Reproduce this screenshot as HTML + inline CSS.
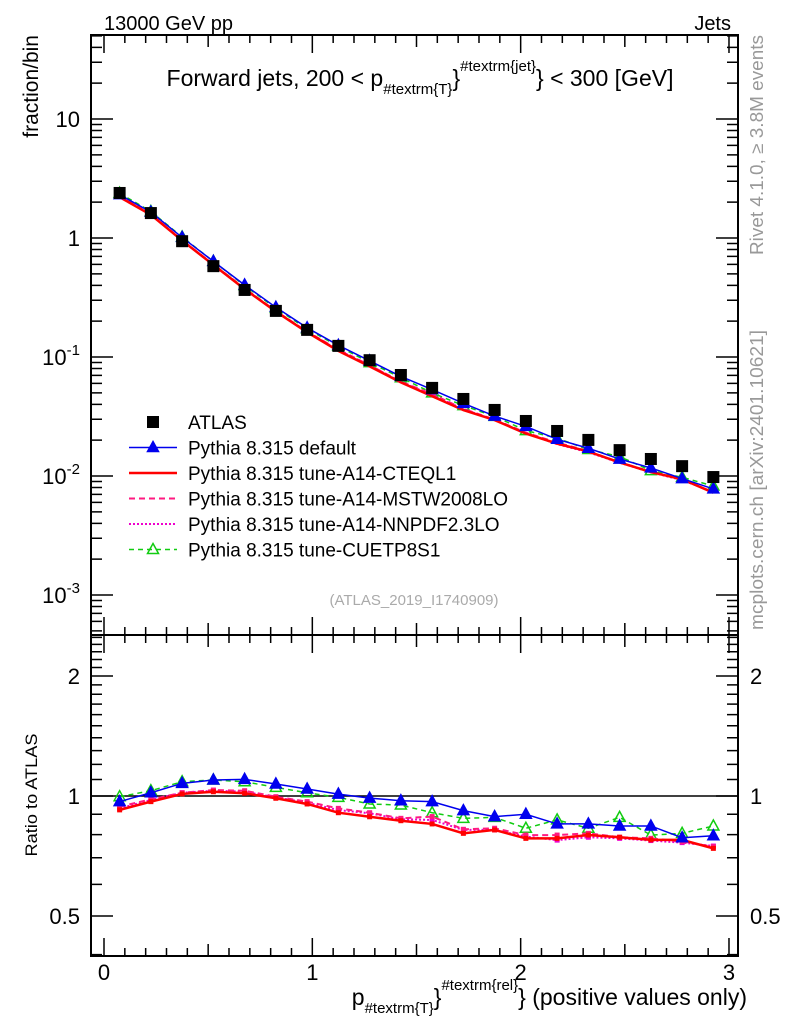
<!DOCTYPE html>
<html><head><meta charset="utf-8"><style>
body{margin:0;background:#fff;}
svg text{font-family:"Liberation Sans",sans-serif;}
</style></head><body>
<svg id="c" width="786" height="1024" viewBox="0 0 786 1024" xmlns="http://www.w3.org/2000/svg">
<text x="104" y="30" font-size="20">13000 GeV pp</text>
<text x="731" y="30" font-size="20" text-anchor="end">Jets</text>
<text x="420" y="86" font-size="23" text-anchor="middle">Forward jets, 200 &lt; p<tspan font-size="15" dy="8">#textrm{T}</tspan><tspan dy="-8">}</tspan><tspan font-size="15" dy="-15">#textrm{jet}</tspan><tspan dy="15">} &lt; 300 [GeV]</tspan></text>
<text transform="translate(38,35) rotate(-90)" font-size="21" text-anchor="end">fraction/bin</text>
<text transform="translate(37,795) rotate(-90)" font-size="17" text-anchor="middle" textLength="123" lengthAdjust="spacingAndGlyphs">Ratio to ATLAS</text>
<text x="747" y="1005" font-size="23" text-anchor="end">p<tspan font-size="15" dy="8">#textrm{T}</tspan><tspan dy="-8">}</tspan><tspan font-size="15" dy="-15">#textrm{rel}</tspan><tspan dy="15">} (positive values only)</tspan></text>
<text transform="translate(763,35) rotate(-90)" font-size="18" fill="#999" text-anchor="end" textLength="220" lengthAdjust="spacingAndGlyphs">Rivet 4.1.0, ≥ 3.8M events</text>
<text transform="translate(763,630) rotate(-90)" font-size="18" fill="#999" textLength="300" lengthAdjust="spacingAndGlyphs">mcplots.cern.ch [arXiv:2401.10621]</text>
<text x="414" y="605" font-size="15" fill="#aaa" text-anchor="middle">(ATLAS_2019_I1740909)</text>
<g id="g"></g>
</svg>
<script>
const xCenters=[0.075,0.225,0.375,0.525,0.675,0.825,0.975,1.125,1.275,1.425,1.575,1.725,1.875,2.025,2.175,2.325,2.475,2.625,2.775,2.925];
const atlas=[2.39,1.62,0.94,0.58,0.366,0.244,0.169,0.124,0.094,0.0706,0.055,0.0444,0.0359,0.029,0.0239,0.0201,0.0165,0.0139,0.0121,0.0098];
const rDefault=[0.968,1.019,1.076,1.097,1.101,1.072,1.041,1.011,0.988,0.973,0.968,0.919,0.888,0.900,0.851,0.851,0.841,0.841,0.786,0.795];
const rCteq=[0.923,0.968,1.012,1.025,1.016,0.987,0.955,0.908,0.887,0.867,0.851,0.806,0.822,0.783,0.783,0.798,0.788,0.776,0.776,0.739];
const rMstw=[0.940,0.981,1.019,1.035,1.031,0.996,0.968,0.931,0.908,0.879,0.888,0.825,0.830,0.798,0.798,0.806,0.788,0.783,0.768,0.746];
const rNnpdf=[0.931,0.977,1.019,1.031,1.025,0.992,0.962,0.922,0.905,0.874,0.871,0.822,0.822,0.791,0.775,0.788,0.783,0.773,0.764,0.749];
const rCuetp=[0.996,1.031,1.086,1.097,1.086,1.051,1.019,0.992,0.955,0.949,0.908,0.879,0.884,0.830,0.871,0.830,0.884,0.798,0.806,0.841];
const xTickLabels=["0","1","2","3"];
const yMainLabels=[[10,"10"],[1,"1"],[0.1,"10^-1"],[0.01,"10^-2"],[0.001,"10^-3"]];
const ratioLabels=[[2,"2"],[1,"1"],[0.5,"0.5"]];

const NS="http://www.w3.org/2000/svg";
const G=document.getElementById('g');
const L=91,R=738,T=35,MID=635,B=956;
const X=v=>104+v*208.33;
const Y=v=>238-119*Math.log10(v);
const YR=v=>796-120*Math.log2(v);
function mk(tag,at,parent){const e=document.createElementNS(NS,tag);for(const k in at)e.setAttribute(k,at[k]);(parent||G).appendChild(e);return e;}

let f1=mk('rect',{x:L,y:T,width:R-L,height:MID-T,fill:'none',stroke:'#000','stroke-width':2});


let f2=mk('rect',{x:L,y:MID,width:R-L,height:B-MID,fill:'none',stroke:'#000','stroke-width':2});



let tk='';
for(let i=0;i<=30;i++){const v=i/10,x=X(v);if(x>R)break;const len=i%10==0?18:(i%5==0?12:8);
 for(const [y0,d] of [[MID,-1],[T,1],[B,-1],[MID,1]]) tk+=`M${x},${y0}v${d*len}`;}
for(let e=-4;e<=1;e++)for(let m=1;m<=9;m++){const v=m*Math.pow(10,e);const y=Y(v);if(y<T||y>MID)continue;const len=m==1?22:11;tk+=`M${L},${y}h${len}M${R},${y}h${-len}`;}
for(const v of [0.4,0.5,0.6,0.7,0.8,0.9,1,1.1,1.2,1.3,1.4,1.5,1.6,1.7,1.8,1.9,2,2.1,2.2,2.3,2.4,2.5]){const y=YR(v);if(y<MID||y>B)continue;const len=(v==0.5||v==1||v==2)?22:11;tk+=`M${L},${y}h${len}M${R},${y}h${-len}`;}
let tp=mk('path',{d:tk,stroke:'#000','stroke-width':1.5,fill:'none'});



xTickLabels.forEach((s,i)=>{let t=mk('text',{x:X(i),y:980,'font-size':22,'text-anchor':'middle'});t.textContent=s;

});
yMainLabels.forEach(([v,s])=>{let t=mk('text',{x:80,y:Y(v)+8,'font-size':22,'text-anchor':'end'});
 const p=s.split('^');t.textContent=p[0];if(p[1]){const ts=mk('tspan',{'font-size':15,dy:-10},t);ts.textContent=p[1];}

});
ratioLabels.forEach(([v,s])=>{for(const [x,a] of [[80,'end'],[750,'start']]){let t=mk('text',{x:x,y:YR(v)+8,'font-size':22,'text-anchor':a});t.textContent=s;

}});
let one=mk('line',{x1:L,x2:R,y1:YR(1),y2:YR(1),stroke:'#000','stroke-width':1.5});



const series=[
 {n:'default',r:rDefault,c:'#0000ee',w:1.5,dash:'',m:'tri'},
 {n:'cteql1',r:rCteq,c:'#ff0000',w:2.5,dash:'',m:'none'},
 {n:'mstw2008lo',r:rMstw,c:'#ff1a80',w:2,dash:'6,4',m:'none'},
 {n:'nnpdf23lo',r:rNnpdf,c:'#ee00cc',w:2,dash:'2,2',m:'none'},
 {n:'cuetp8s1',r:rCuetp,c:'#11cc11',w:1.5,dash:'5,4',m:'otri'}];
function tri(x,y,c,open,g){return mk('path',{d:`M${x},${y-6}L${x+5.5},${y+4}L${x-5.5},${y+4}Z`,fill:open?'none':c,stroke:c,'stroke-width':1.5},g);}
series.slice().reverse().forEach(s=>{
 for(const panel of ['main','ratio']){
  const pts=xCenters.map((x,i)=>[X(x),panel=='main'?Y(atlas[i]*s.r[i]):YR(s.r[i])]);
  let g=mk('g',{});
  
  
  mk('polyline',{points:pts.map(p=>p.join(',')).join(' '),fill:'none',stroke:s.c,'stroke-width':s.w,'stroke-dasharray':s.dash},g);
  pts.forEach(p=>{if(s.m=='tri')tri(p[0],p[1],s.c,false,g);else if(s.m=='otri')tri(p[0],p[1],s.c,true,g);
   else if(panel=='ratio')mk('rect',{x:p[0]-2.5,y:p[1]-2.5,width:5,height:5,fill:s.c},g);});
 }
});
let ga=mk('g',{});


xCenters.forEach((x,i)=>mk('rect',{x:X(x)-6,y:Y(atlas[i])-6,width:12,height:12,fill:'#000'},ga));

const leg=[['ATLAS','#000','','sq',0],['Pythia 8.315 default','#0000ee','','tri',1.5],['Pythia 8.315 tune-A14-CTEQL1','#ff0000','','none',2.5],
 ['Pythia 8.315 tune-A14-MSTW2008LO','#ff1a80','6,4','none',2],['Pythia 8.315 tune-A14-NNPDF2.3LO','#ee00cc','2,2','none',2],['Pythia 8.315 tune-CUETP8S1','#11cc11','5,4','otri',1.5]];
leg.forEach((e,i)=>{const y=422+i*25.5;let g=mk('g',{});
 
 
 if(e[4])mk('line',{x1:129,x2:177,y1:y,y2:y,stroke:e[1],'stroke-width':e[4],'stroke-dasharray':e[2]},g);
 if(e[3]=='sq')mk('rect',{x:147,y:y-6,width:12,height:12,fill:'#000'},g);
 if(e[3]=='tri')tri(153,y,e[1],false,g);if(e[3]=='otri')tri(153,y,e[1],true,g);
 let t=mk('text',{x:188,y:y+7,'font-size':19},g);t.textContent=e[0];});
</script>
</body></html>
